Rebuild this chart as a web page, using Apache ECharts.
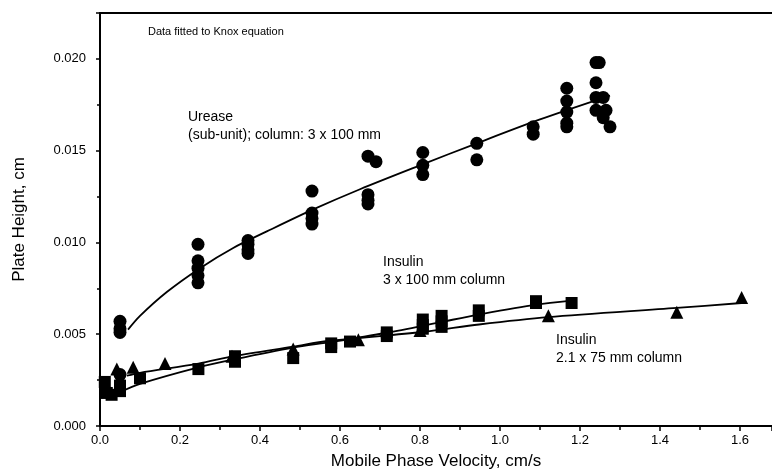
<!DOCTYPE html>
<html>
<head>
<meta charset="utf-8">
<script src="https://cdn.jsdelivr.net/npm/echarts@6/dist/echarts.min.js"></script>
<style>html,body{margin:0;padding:0;background:#fff}#c{width:772px;height:475px}</style>
</head>
<body>
<div id="c"></div>
<script>
// Urease (sub-unit), 3 x 100 mm column — measured points
const ureaseVel = [0.05,0.05,0.05,0.05, 0.245,0.245,0.245,0.245,0.245, 0.37,0.37,0.37,0.37,
  0.53,0.53,0.53,0.53, 0.67,0.67,0.67,0.67,0.69, 0.807,0.807,0.807, 0.942,0.942, 1.083,1.083,
  1.167,1.167,1.167,1.167,1.167, 1.24,1.24,1.24,1.24,1.248,1.258,1.258,1.265,1.275];
const ureaseH = [0.0057,0.0053,0.0051,0.0028, 0.0099,0.0090,0.0086,0.0082,0.0078, 0.0101,0.0099,0.0096,0.0094,
  0.0128,0.0116,0.0113,0.0110, 0.0147,0.0126,0.0123,0.0121,0.0144, 0.0149,0.0142,0.0137, 0.0154,0.0145, 0.0163,0.0159,
  0.0184,0.0177,0.0171,0.0165,0.0163, 0.0198,0.0187,0.0179,0.0172,0.0198,0.0179,0.0168,0.0172,0.0163];
// Urease Knox fit curve
const ureaseFitVel = [0.07,0.10,0.167,0.25,0.333,0.417,0.533,0.65,0.80,0.942,1.10,1.275];
const ureaseFitH   = [0.00525,0.0060,0.0073,0.0086,0.0097,0.0106,0.0118,0.0129,0.0142,0.0154,0.0167,0.0180];

// Insulin, 3 x 100 mm column (squares)
const ins3Vel = [0.012,0.017,0.029,0.05,0.05,0.10,0.246,0.3375,0.3375,0.483,0.578,0.578,0.625,0.717,0.717,
  0.807,0.807,0.807,0.854,0.854,0.854,0.947,0.947,1.09,1.09,1.179];
const ins3H = [0.0024,0.0018,0.0017,0.0022,0.0019,0.0026,0.0031,0.0038,0.0035,0.0037,0.0043,0.0045,0.0046,0.0049,0.0051,
  0.0053,0.0055,0.0058,0.0054,0.0057,0.0060,0.0060,0.0063,0.0067,0.0068,0.0067];
const ins3FitVel = [0.05,0.10,0.246,0.3375,0.483,0.579,0.717,0.854,0.9475,1.09,1.179];
const ins3FitH   = [0.00184,0.00229,0.00319,0.00364,0.00427,0.00458,0.00508,0.00567,0.00607,0.00661,0.00683];

// Insulin, 2.1 x 75 mm column (triangles)
const ins21Vel = [0.042,0.083,0.1625,0.33,0.483,0.646,0.80,1.121,1.442,1.604];
const ins21H   = [0.0031,0.0032,0.0034,0.0038,0.0042,0.0047,0.0052,0.0060,0.0062,0.0070];
const ins21FitVel = [0.067,0.10,0.246,0.3375,0.483,0.57,0.807,0.9475,1.121,1.442,1.604];
const ins21FitH   = [0.00274,0.00290,0.0034,0.00382,0.00432,0.00463,0.00512,0.00553,0.00593,0.00643,0.0067];

const zip = (a, b) => a.map((v, i) => [v, b[i]]);
const FONT = '"Liberation Sans", Arial, sans-serif';

const chart = echarts.init(document.getElementById('c'), null, {renderer: 'canvas'});
const scatter = (name, sym, size, data) => ({
  name, type: 'scatter', symbol: sym, symbolSize: size, data,
  itemStyle: {color: '#000', opacity: 1}, z: 3, silent: true
});
const fit = (data) => ({
  type: 'line', data, smooth: 0.3, showSymbol: false, symbol: 'none',
  lineStyle: {color: '#000', width: 1.8}, z: 2, silent: true
});
chart.setOption({
  animation: false,
  backgroundColor: '#fff',
  grid: {left: 100, right: 0, top: 13, bottom: 46},
  xAxis: [{
    type: 'value', min: 0, max: 1.68, interval: 0.2,
    name: 'Mobile Phase Velocity, cm/s', nameLocation: 'middle', nameGap: 27,
    nameTextStyle: {fontFamily: FONT, fontSize: 17, color: '#000'},
    axisLine: {lineStyle: {color: '#000', width: 2}},
    axisTick: {show: true, length: 5, lineStyle: {color: '#000', width: 1.5}},
    minorTick: {show: true, splitNumber: 2, length: 4, lineStyle: {color: '#000', width: 1.5}},
    splitLine: {show: false},
    axisLabel: {showMaxLabel: false, fontFamily: FONT, fontSize: 13, color: '#000', margin: 8,
      formatter: v => v.toFixed(1)}
  }, {
    type: 'value', position: 'top', min: 0, max: 1.68,
    axisLine: {show: true, lineStyle: {color: '#000', width: 2}},
    axisTick: {show: false}, axisLabel: {show: false}, splitLine: {show: false}
  }],
  yAxis: {
    type: 'value', min: 0, max: 0.0225, interval: 0.005,
    name: 'Plate Height, cm', nameLocation: 'middle', nameGap: 72,
    nameTextStyle: {fontFamily: FONT, fontSize: 17, color: '#000'},
    axisLine: {show: true, lineStyle: {color: '#000', width: 2}},
    axisTick: {show: true, length: 4, lineStyle: {color: '#000', width: 1.5}},
    minorTick: {show: true, splitNumber: 2, length: 3, lineStyle: {color: '#000', width: 1.5}},
    splitLine: {show: false},
    axisLabel: {showMaxLabel: false, fontFamily: FONT, fontSize: 13, color: '#000', margin: 14,
      formatter: v => v.toFixed(3)}
  },
  series: [
    fit(zip(ureaseFitVel, ureaseFitH)),
    fit(zip(ins3FitVel, ins3FitH)),
    fit(zip(ins21FitVel, ins21FitH)),
    scatter('Urease', 'circle', 13, zip(ureaseVel, ureaseH)),
    scatter('Insulin 3 x 100', 'rect', 12, zip(ins3Vel, ins3H)),
    scatter('Insulin 2.1 x 75', 'triangle', 13, zip(ins21Vel, ins21H))
  ],
  graphic: [
    {type: 'text', left: 148, top: 26, style: {text: 'Data fitted to Knox equation', font: '11px ' + FONT, fill: '#000'}},
    {type: 'text', left: 188, top: 108, style: {text: 'Urease\n(sub-unit); column: 3 x 100 mm', font: '14px ' + FONT, lineHeight: 18, fill: '#000'}},
    {type: 'text', left: 383, top: 253, style: {text: 'Insulin\n3 x 100 mm column', font: '14px ' + FONT, lineHeight: 18, fill: '#000'}},
    {type: 'text', left: 556, top: 331, style: {text: 'Insulin\n2.1 x 75 mm column', font: '14px ' + FONT, lineHeight: 18, fill: '#000'}}
  ]
});
</script>
</body>
</html>
